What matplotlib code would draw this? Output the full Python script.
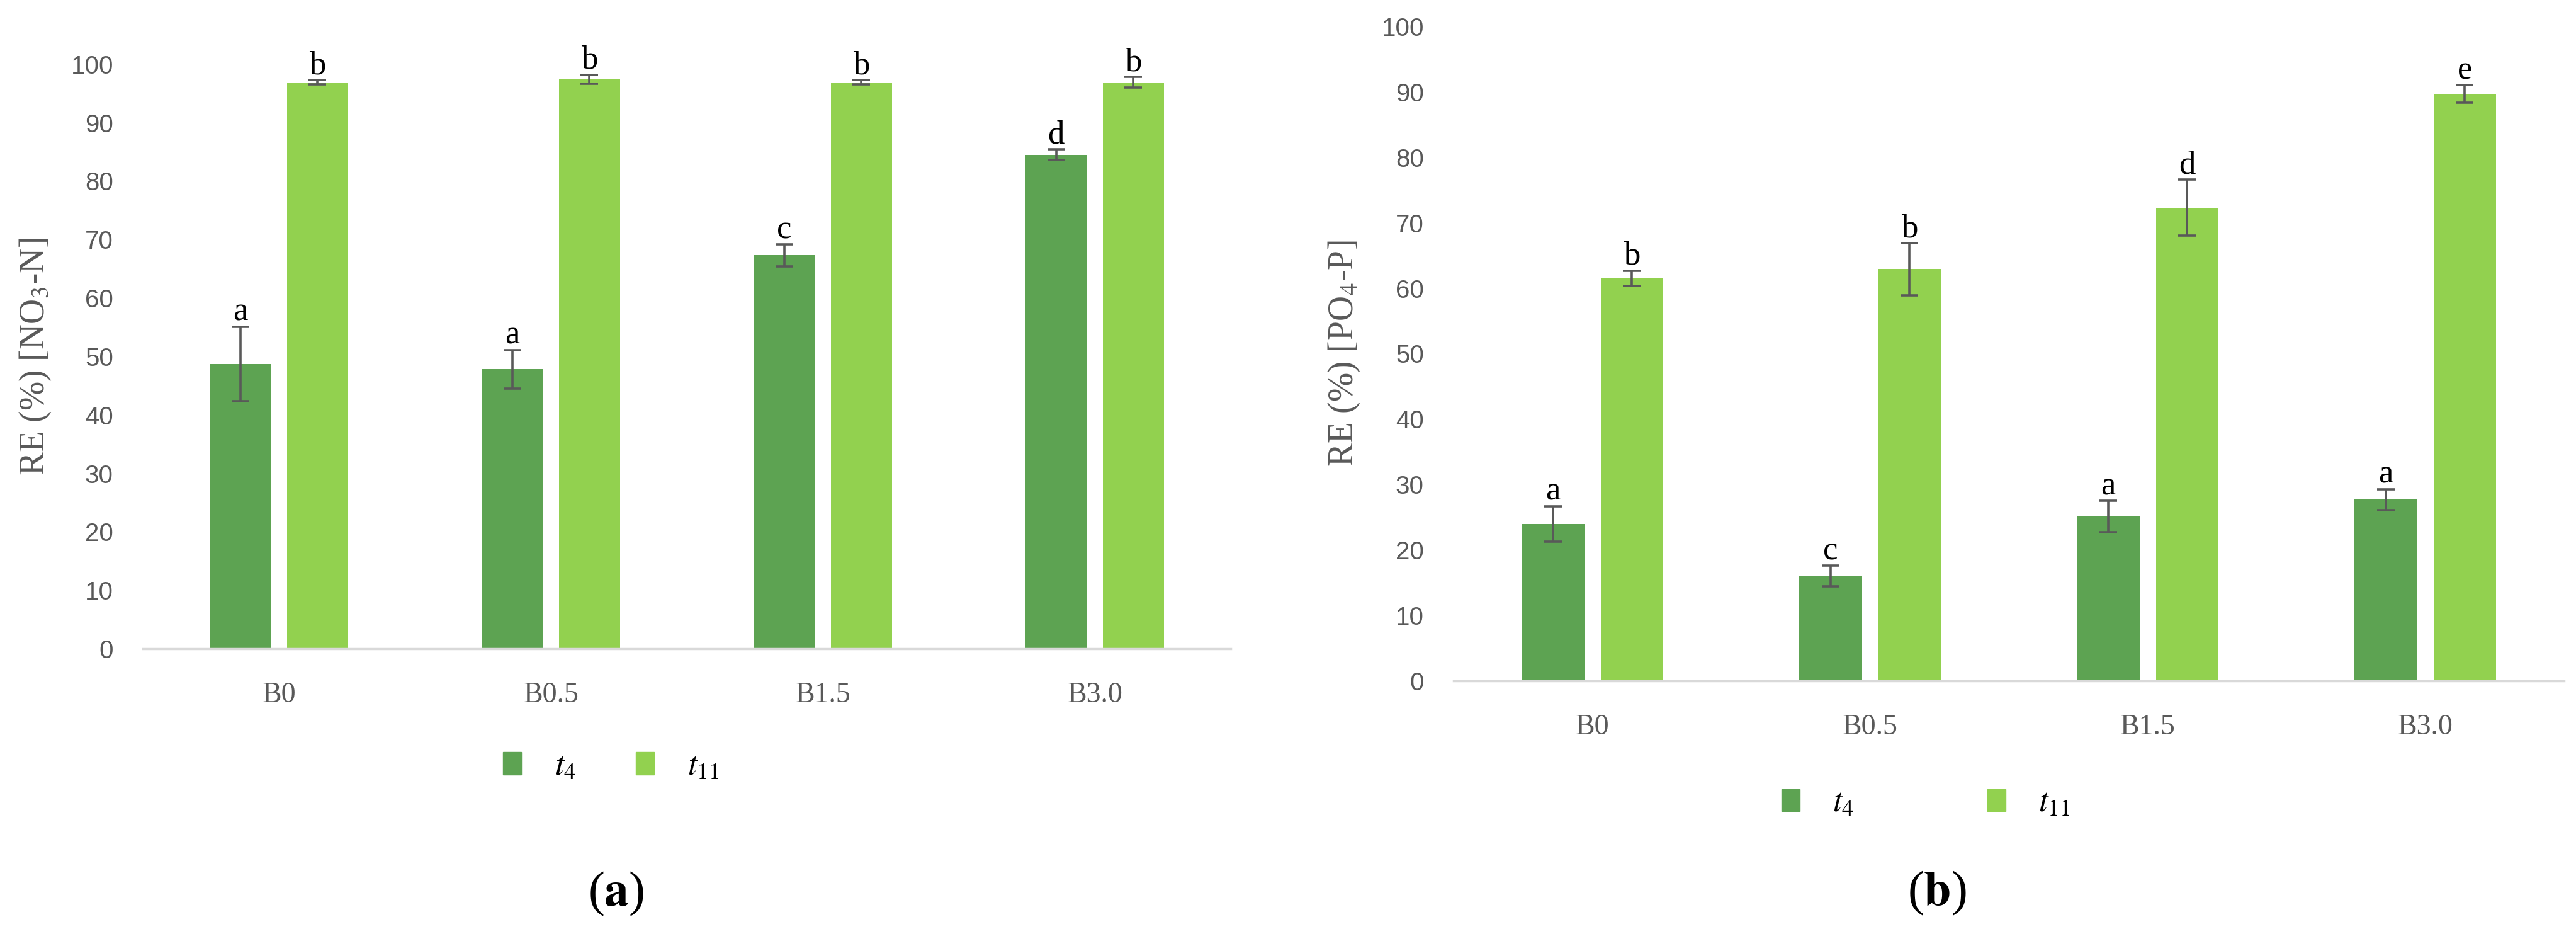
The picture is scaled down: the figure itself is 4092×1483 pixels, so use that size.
import numpy as np
import matplotlib
matplotlib.use("Agg")
import matplotlib.pyplot as plt
from matplotlib.patches import Patch

plt.rcParams['mathtext.fontset'] = 'stix'

# data
categories = ['B0', 'B0.5', 'B1.5', 'B3.0']

no3_t4 = [48.7, 47.8, 67.3, 84.5]
no3_t4_err = [6.4, 3.3, 1.9, 0.9]
no3_t11 = [96.9, 97.4, 96.9, 96.9]
no3_t11_err = [0.4, 0.8, 0.4, 0.9]
no3_t4_letters = ['a', 'a', 'c', 'd']
no3_t11_letters = ['b', 'b', 'b', 'b']

po4_t4 = [24.0, 16.0, 25.1, 27.7]
po4_t4_err = [2.7, 1.6, 2.4, 1.6]
po4_t11 = [61.5, 62.9, 72.3, 89.7]
po4_t11_err = [1.2, 4.0, 4.3, 1.35]
po4_t4_letters = ['a', 'c', 'a', 'a']
po4_t11_letters = ['b', 'b', 'd', 'e']

dark = '#5da352'
light = '#92d14f'
grey = '#595959'
serif = 'Liberation Serif'
sans = 'Liberation Sans'

fig = plt.figure(figsize=(40.92, 14.83), dpi=100)


def panel(rect, t4, t4_err, t11, t11_err, l4, l11, ylabel, tag, leg_xy, colspace):
    ax = fig.add_axes(rect)
    x = np.arange(len(categories))
    w = 0.225
    off = 0.142
    ekw = dict(ecolor=grey, elinewidth=2.6, capsize=10, capthick=2.6)
    ax.bar(x - off, t4, w, color=dark, yerr=t4_err, error_kw=ekw, zorder=2)
    ax.bar(x + off, t11, w, color=light, yerr=t11_err, error_kw=ekw, zorder=2)
    for xi, v, e, s in zip(x - off, t4, t4_err, l4):
        ax.annotate(s, (xi, v + e), xytext=(0, 7), textcoords='offset points',
                    ha='center', va='baseline', fontsize=38, family=serif,
                    color='black', annotation_clip=False)
    for xi, v, e, s in zip(x + off, t11, t11_err, l11):
        ax.annotate(s, (xi, v + e), xytext=(0, 7), textcoords='offset points',
                    ha='center', va='baseline', fontsize=38, family=serif,
                    color='black', annotation_clip=False)
    ax.set_xlim(-0.5, len(categories) - 0.5)
    ax.set_ylim(0, 100)
    ax.set_yticks(np.arange(0, 101, 10))
    ax.set_xticks(x)
    ax.set_xticklabels(categories, family=serif, fontsize=33, color=grey)
    for lab in ax.get_yticklabels():
        lab.set_family(sans)
        lab.set_fontsize(29)
        lab.set_color(grey)
    ax.tick_params(axis='both', length=0)
    ax.tick_params(axis='y', pad=34)
    ax.tick_params(axis='x', pad=38)
    for sp in ['top', 'right', 'left']:
        ax.spines[sp].set_visible(False)
    ax.spines['bottom'].set_color('#d9d9d9')
    ax.spines['bottom'].set_linewidth(2.5)
    ax.set_ylabel(ylabel, family=serif, fontsize=40, color=grey)
    ax.yaxis.set_label_coords(-0.083, 0.5)
    handles = [Patch(color=dark), Patch(color=light)]
    ax.legend(handles, [r'$\mathit{t_{4}}$', r'$\mathit{t_{11}}$'],
              loc='center', bbox_to_anchor=leg_xy, ncol=2, frameon=False,
              fontsize=38, handlelength=0.55, handleheight=0.65,
              handletextpad=1.0, columnspacing=colspace)
    ax.text(0.435, tag[1], tag[0], transform=ax.transAxes, ha='center',
            va='center', fontsize=56, family=serif, color='black')
    return ax


panel([0.0555, 0.3055, 0.4223, 0.6258], no3_t4, no3_t4_err, no3_t11, no3_t11_err,
      no3_t4_letters, no3_t11_letters, r'RE (%) [NO$_3$-N]',
      (r'($\mathbf{a}$)', -0.42), (0.43, -0.20), 1.8)
panel([0.5643, 0.2711, 0.4311, 0.7006], po4_t4, po4_t4_err, po4_t11, po4_t11_err,
      po4_t4_letters, po4_t11_letters, r'RE (%) [PO$_4$-P]',
      (r'($\mathbf{b}$)', -0.325), (0.425, -0.186), 4.0)

fig.savefig('out.png', dpi=100, facecolor='white')
